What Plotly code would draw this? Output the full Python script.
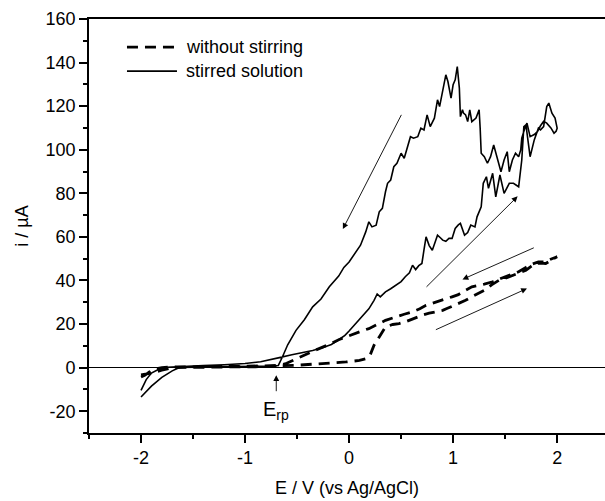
import plotly.graph_objects as go

# Cyclic voltammograms: potential (V vs Ag/AgCl) and current (µA), in scan order
E_still = [-2.0, -1.96, -1.92, -1.86, -1.8, -1.7, -1.4, -1.1, -0.8, -0.67, -0.5, -0.26, -0.03,
           0.10, 0.16, 0.20, 0.24, 0.29, 0.35, 0.42, 0.48, 0.54, 0.62, 0.70, 0.77, 0.83, 0.90,
           0.94, 1.02, 1.12, 1.20, 1.30, 1.37, 1.44, 1.50, 1.57, 1.63, 1.70, 1.75, 1.79, 1.84,
           1.89, 1.95, 2.0,
           1.95, 1.88, 1.82, 1.76, 1.70, 1.63, 1.57, 1.50, 1.44, 1.38, 1.30, 1.25, 1.18, 1.10,
           1.05, 0.99, 0.94, 0.83, 0.74, 0.68, 0.61, 0.53, 0.45, 0.35, 0.27, 0.19, 0.12, 0.06,
           -0.03, -0.10, -0.2, -0.35, -0.5, -0.6, -0.7, -0.9, -1.2, -1.5, -1.7, -1.8, -1.9, -2.0]
I_still = [-4.3, -3.4, -2.0, -0.6, 0.0, 0.3, 0.4, 0.5, 0.6, 0.9, 1.1, 1.8, 2.6,
           3.3, 4.1, 5.5, 10.3, 14.1, 18.7, 19.8, 20.2, 21.0, 22.6, 24.0, 25.0, 25.6, 26.3,
           27.1, 28.8, 30.9, 33.0, 35.5, 38.0, 40.1, 41.0, 42.4, 43.5, 44.7, 46.5, 47.8, 48.0,
           47.8, 49.5, 50.9,
           50.0, 48.5, 48.5, 47.5, 46.0, 44.0, 43.0, 41.7, 40.3, 39.4, 38.3, 37.8, 37.1, 35.0,
           33.5, 32.5, 31.7, 30.2, 28.6, 27.0, 25.6, 24.5, 23.3, 21.7, 19.8, 17.9, 16.8, 15.6,
           14.1, 12.8, 10.5, 7.5, 4.0, 2.0, 0.7, 0.4, 0.3, 0.2, 0.0, -1.2, -2.5, -3.3]

E_stir = [-2.0, -1.95, -1.90, -1.83, -1.75, -1.6, -1.4, -1.2, -1.0, -0.85, -0.75, -0.67, -0.55,
          -0.45, -0.35, -0.25, -0.17, -0.10, -0.04, 0.0, 0.06, 0.13, 0.19, 0.24, 0.27, 0.30,
          0.35, 0.40, 0.45, 0.50, 0.54, 0.58, 0.61, 0.64, 0.67, 0.70, 0.72, 0.74, 0.77, 0.80,
          0.83, 0.85, 0.88, 0.90, 0.93, 0.96, 0.99, 1.02, 1.05, 1.07, 1.11, 1.14, 1.17, 1.21,
          1.23, 1.27, 1.29, 1.32, 1.34, 1.38, 1.41, 1.45, 1.49, 1.52, 1.54, 1.58, 1.61, 1.63,
          1.66, 1.68, 1.70, 1.72, 1.74, 1.78, 1.82, 1.84, 1.87, 1.90, 1.92, 1.95, 1.98, 2.0,
          1.99, 1.97, 1.94, 1.90, 1.87, 1.84, 1.81, 1.78, 1.74, 1.71, 1.69, 1.66, 1.65, 1.63,
          1.60, 1.57, 1.54, 1.52, 1.49, 1.46, 1.43, 1.39, 1.36, 1.33, 1.30, 1.27, 1.26, 1.25,
          1.22, 1.18, 1.16, 1.14, 1.12, 1.10, 1.09, 1.07, 1.06, 1.04, 1.02, 1.00, 0.98, 0.95,
          0.93, 0.90, 0.87, 0.85, 0.82, 0.78, 0.75, 0.72, 0.69, 0.66, 0.62, 0.59, 0.56, 0.53,
          0.50, 0.46, 0.43, 0.40, 0.37, 0.35, 0.32, 0.29, 0.26, 0.22, 0.19, 0.16, 0.11, 0.06,
          0.0, -0.05, -0.10, -0.19, -0.27, -0.35, -0.43, -0.51, -0.59, -0.64, -0.68, -0.75,
          -1.0, -1.3, -1.55, -1.63, -1.7, -1.8, -1.9, -2.0]
I_stir = [-10.4, -5.5, -2.5, -0.8, 0.2, 0.6, 0.9, 1.3, 1.9, 2.7, 3.6, 4.6, 5.9,
          6.8, 7.9, 9.2, 10.6, 12.8, 14.8, 16.8, 20.0, 23.3, 27.0, 30.9, 33.8, 32.5,
          34.8, 36.2, 37.8, 39.5, 41.7, 43.5, 47.0, 45.0, 46.8, 47.8, 54.0, 60.0, 56.0, 53.9,
          58.0, 60.8, 59.5, 58.5, 58.0, 59.3, 59.3, 63.9, 65.5, 66.2, 60.8, 62.0, 65.4, 64.6,
          69.2, 73.8, 84.6, 87.6, 82.3, 89.2, 78.4, 88.4, 80.0, 83.0, 84.6, 84.6, 83.5, 83.0,
          95.3, 110.6, 111.4, 104.5, 96.8, 104.5, 109.9, 109.1, 110.6, 119.8, 121.4, 116.8, 114.5, 109.9,
          108.5, 107.6, 110.0, 112.2, 113.0, 111.0, 108.3, 107.0, 106.0, 112.2, 110.0, 105.3, 99.9, 96.8,
          98.4, 95.3, 89.9, 99.1, 95.3, 89.9, 95.3, 102.2, 96.8, 93.8, 96.8, 98.4, 110.0, 118.3,
          114.5, 112.9, 118.3, 112.9, 116.0, 116.8, 118.3, 115.2, 128.3, 138.2, 132.1, 129.8, 123.7, 131.3,
          134.4, 126.7, 119.8, 122.9, 114.5, 110.6, 116.0, 109.1, 109.9, 106.0, 105.3, 106.0, 100.7, 96.1,
          98.4, 93.8, 92.2, 86.1, 84.6, 80.7, 73.1, 71.5, 65.4, 64.6, 66.9, 62.3, 56.2, 52.5,
          48.5, 46.0, 42.0, 37.1, 31.5, 27.9, 22.0, 17.1, 10.5, 5.0, 1.0, 0.7,
          0.5, 0.4, 0.3, 0.1, -1.5, -4.5, -8.5, -13.5]

# Axis ticks
x_ticks = [-2, -1, 0, 1, 2]
x_tick_labels = ["-2", "-1", "0", "1", "2"]
y_ticks = [-20, 0, 20, 40, 60, 80, 100, 120, 140, 160]
y_tick_labels = ["-20", "0", "20", "40", "60", "80", "100", "120", "140", "160"]

# Scan-direction arrows: (tail E, tail i, head E, head i)
scan_arrows = [
    (0.51, 116.7, -0.06, 63.6),
    (0.73, 36.4, 1.62, 78.6),
    (1.79, 55.3, 1.09, 40.5),
    (0.82, 17.1, 1.71, 36.3),
]
E_rp = -0.70

FONT = "Arial, Liberation Sans, sans-serif"

fig = go.Figure()
fig.add_trace(go.Scatter(x=E_still, y=I_still, mode="lines", name="without stirring",
                         line=dict(color="black", width=2.8, dash="11px,7px"),
                         showlegend=False))
fig.add_trace(go.Scatter(x=E_stir, y=I_stir, mode="lines", name="stirred solution",
                         line=dict(color="black", width=1.6),
                         showlegend=False))

annotations = []
for x0, y0, x1, y1 in scan_arrows:
    annotations.append(dict(x=x1, y=y1, ax=x0, ay=y0, xref="x", yref="y", axref="x", ayref="y",
                            showarrow=True, arrowhead=2, arrowsize=1.3, arrowwidth=0.9,
                            arrowcolor="black", text=""))
annotations.append(dict(x=E_rp, y=-3.5, ax=E_rp, ay=-11.5, xref="x", yref="y", axref="x",
                        ayref="y", showarrow=True, arrowhead=2, arrowsize=1.3, arrowwidth=0.9,
                        arrowcolor="black", text=""))
annotations.append(dict(x=E_rp, y=-19.5, xref="x", yref="y", showarrow=False,
                        text="E<sub>rp</sub>", font=dict(family=FONT, size=20, color="black"),
                        xanchor="center", yanchor="middle"))

# Legend drawn as line samples with labels
legend_rows = [("without stirring", "11px,7px", 2.8, 0.932),
               ("stirred solution", "solid", 1.6, 0.874)]
shapes = []
for label, dash, width, yp in legend_rows:
    shapes.append(dict(type="line", xref="paper", yref="paper", x0=0.0736, x1=0.1705,
                       y0=yp, y1=yp, line=dict(color="black", width=width, dash=dash)))
    annotations.append(dict(x=0.184, y=yp, xref="paper", yref="paper", text=label,
                            showarrow=False, xanchor="left", yanchor="middle",
                            font=dict(family=FONT, size=18, color="black")))

fig.update_layout(
    width=605, height=501,
    margin=dict(l=89, r=0, t=19, b=68),
    paper_bgcolor="white", plot_bgcolor="white",
    font=dict(family=FONT, size=18, color="black"),
    annotations=annotations,
    shapes=shapes,
    showlegend=False,
)
fig.update_xaxes(
    range=[-2.5, 2.46], tickvals=x_ticks, ticktext=x_tick_labels,
    ticks="outside", ticklen=8, tickwidth=1.5, tickcolor="black",
    minor=dict(ticks="outside", ticklen=4, tickwidth=1.5, tickcolor="black", dtick=0.5, tick0=0),
    showline=True, linecolor="black", linewidth=1.6, mirror=True,
    showgrid=False, zeroline=False,
    title=dict(text="E / V (vs Ag/AgCl)", standoff=14, font=dict(family=FONT, size=18)),
    tickfont=dict(family=FONT, size=18),
)
fig.update_yaxes(
    range=[-30, 160], tickvals=y_ticks, ticktext=y_tick_labels,
    ticks="outside", ticklen=8, tickwidth=1.5, tickcolor="black",
    minor=dict(ticks="outside", ticklen=4, tickwidth=1.5, tickcolor="black", dtick=10, tick0=0),
    showline=True, linecolor="black", linewidth=1.6, mirror=False,
    showgrid=False, zeroline=True, zerolinecolor="black", zerolinewidth=1.4,
    title=dict(text="i / µA", standoff=12, font=dict(family=FONT, size=18)),
    tickfont=dict(family=FONT, size=18),
)

fig.write_html("out.html")
